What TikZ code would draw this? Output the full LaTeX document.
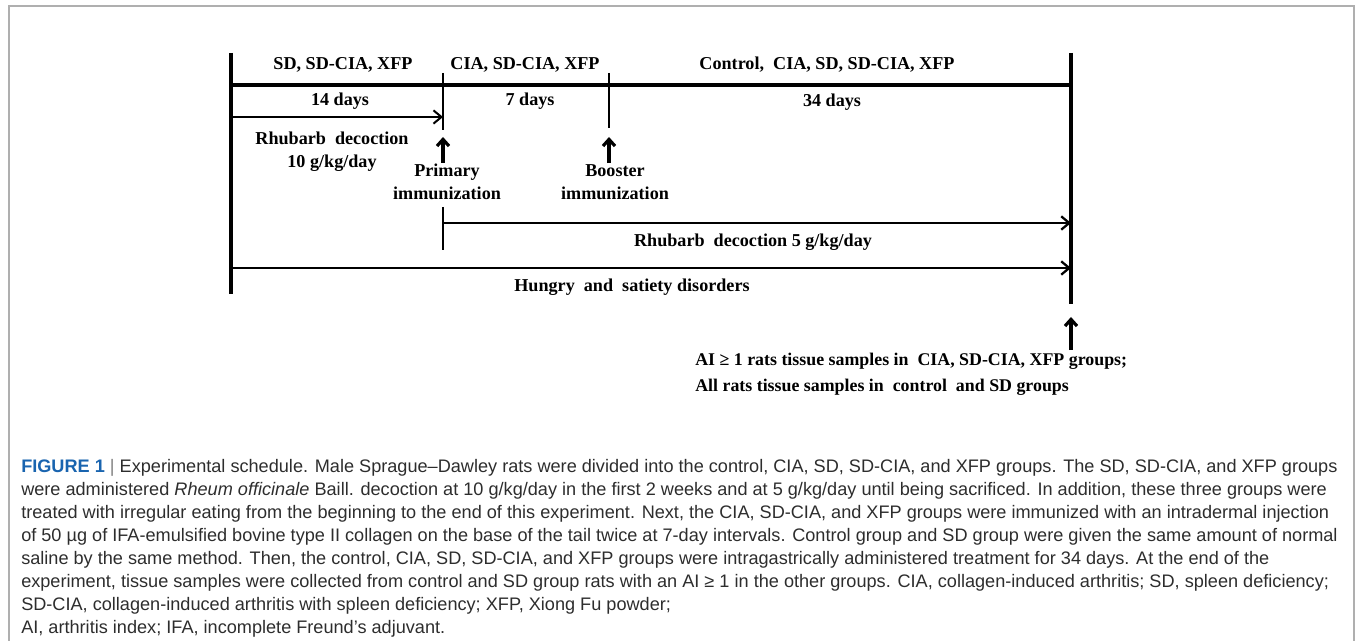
\documentclass[tikz,border=0pt]{standalone}
\usepackage{fontspec}
\setmainfont{Liberation Serif}
\newfontfamily\capfont{Liberation Sans}
\usepackage{tikz}
\usetikzlibrary{arrows.meta,positioning}
\definecolor{figblue}{RGB}{25,100,175}
\definecolor{capgray}{RGB}{45,45,45}
\definecolor{framegray}{RGB}{175,175,175}

\begin{document}
\begin{tikzpicture}[x=0.75pt, y=-0.75pt,
  every node/.style={font=\bfseries\fontsize{13.6}{17.3}\selectfont, inner sep=0pt},
  bar/.style={line width=3pt},
  topline/.style={line width=2.5pt},
  tick/.style={line width=1.1pt},
  span/.style={line width=1.7pt, -{Straight Barb[length=6pt,width=10pt]}},
  uparrow/.style={line width=2.4pt, -{Straight Barb[length=5pt,width=9pt]}}]
\useasboundingbox (0,0) rectangle (1355,641);
% Frame
\draw[framegray, line width=1.1pt] (9,641) -- (9,6) -- (1354,6) -- (1354,641);
% Time points
\coordinate (L0) at (231,53);
\coordinate (L1) at (231,294);
\coordinate (R0) at (1071,53);
\coordinate (R1) at (1071,304);
\coordinate (Ltop) at (231,85);
\coordinate (Rtop) at (1071,85);
\coordinate (pT) at (443,73);
\coordinate (pB) at (443,130);
\coordinate (bT) at (609,73);
\coordinate (bB) at (609,128);
\coordinate (pT2) at (443,207);
\coordinate (pB2) at (443,250);
\coordinate (d14a) at (231,117);
\coordinate (d14b) at (443,117);
\coordinate (rha) at (443,223);
\coordinate (rhb) at (1071,223);
\coordinate (hua) at (231,268);
\coordinate (hub) at (1071,268);
\coordinate (ptip) at (443,137);
\coordinate (btip) at (609,137);
\coordinate (etip) at (1071,317);
% Timeline
\draw[bar] (L0) -- (L1);
\draw[bar] (R0) -- (R1);
\draw[topline] (Ltop) -- (Rtop);
\draw[tick] (pT) -- (pB);
\draw[tick] (bT) -- (bB);
\draw[tick] (pT2) -- (pB2);
% Groups and periods
\node (g1) at (343,65) {SD, SD-CIA, XFP};
\node (g2) at (525,65) {CIA, SD-CIA, XFP};
\node (g3) at (827,65) {Control,\ \ CIA, SD, SD-CIA, XFP};
\node (d1) at (340,101) {14 days};
\node (d2) at (530,101) {7 days};
\node (d3) at (832,102) {34 days};
% Treatments
\draw[line width=1.5pt, -{Straight Barb[length=6pt,width=10pt]}] (d14a) -- (d14b);
\node[align=center] (rd1) at (332,152) {Rhubarb\ \ decoction\\10 g/kg/day};
\draw[span] (rha) -- (rhb);
\node (rd2) at (753,242) {Rhubarb\ \ decoction 5 g/kg/day};
\draw[span] (hua) -- (hub);
\node (hun) at (632,287) {Hungry\ \ and\ \ satiety disorders};
% Immunization
\node[align=center] (prim) at (447,182) {Primary\\immunization};
\node[align=center] (boost) at (615,182) {Booster\\immunization};
\draw[uparrow] (prim.north -| ptip) ++(0,-1) -- (ptip);
\draw[uparrow] (boost.north -| btip) ++(0,-1) -- (btip);
% Sampling
\node[align=left, anchor=north west, font=\bfseries\fontsize{13.4}{19.5}\selectfont] (samp) at (695,353)
  {AI ≥ 1 rats tissue samples in\ \ CIA, SD-CIA, XFP groups;\\All rats tissue samples in\ \ control\ \ and SD groups};
\draw[uparrow] (samp.north -| etip) ++(0,-3) -- (etip);
% Caption
\node[align=left, anchor=north west, text=capgray, font=\capfont\fontsize{13.6}{17.3}\selectfont] (cap) at (21,459)
  {\textcolor{figblue}{\textbf{FIGURE 1}} {\color{gray}|} Experimental schedule. Male Sprague–Dawley rats were divided into the control, CIA, SD, SD-CIA, and XFP groups. The SD, SD-CIA, and XFP groups\\
   were administered \textit{Rheum officinale} Baill. decoction at 10 g/kg/day in the first 2 weeks and at 5 g/kg/day until being sacrificed. In addition, these three groups were\\
   treated with irregular eating from the beginning to the end of this experiment. Next, the CIA, SD-CIA, and XFP groups were immunized with an intradermal injection\\
   of 50 µg of IFA-emulsified bovine type II collagen on the base of the tail twice at 7-day intervals. Control group and SD group were given the same amount of normal\\
   saline by the same method. Then, the control, CIA, SD, SD-CIA, and XFP groups were intragastrically administered treatment for 34 days. At the end of the\\
   experiment, tissue samples were collected from control and SD group rats with an AI ≥ 1 in the other groups. CIA, collagen-induced arthritis; SD, spleen deficiency;\\
   SD-CIA, collagen-induced arthritis with spleen deficiency; XFP, Xiong Fu powder;\\
   AI, arthritis index; IFA, incomplete Freund’s adjuvant.};
\end{tikzpicture}
\end{document}
